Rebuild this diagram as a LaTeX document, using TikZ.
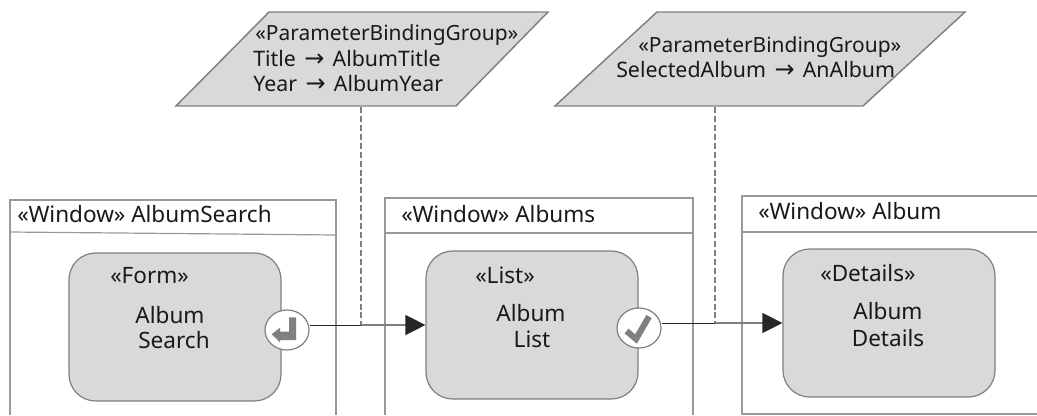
\documentclass[tikz,border=0pt]{standalone}
\usepackage{fontspec}
\setmainfont{Noto Sans}
\newfontfamily\arrowfont{DejaVu Sans}
\usetikzlibrary{arrows.meta,shapes.geometric}
\definecolor{framegray}{HTML}{999999}
\definecolor{edgegray}{HTML}{808080}
\definecolor{fillgray}{HTML}{D9D9D9}
\definecolor{inkdark}{HTML}{262626}
\newcommand{\toarrow}{\hspace{2.2pt}{\arrowfont\fontsize{18}{20}\selectfont →}\hspace{2pt}}
\tikzset{
  px/.style={x=0.75pt,y=-0.75pt},
  winline/.style={draw=framegray,line width=1.1pt},
  formbox/.style={draw=edgegray,fill=fillgray,line width=0.9pt,rounded corners=20pt,inner sep=0pt,minimum width=159pt,minimum height=111pt},
  parbox/.style={draw=edgegray,fill=fillgray,line width=1.1pt,line join=miter},
  port/.style={ellipse,draw=edgegray,fill=white,line width=0.9pt,inner sep=0pt,minimum width=33pt,minimum height=30pt},
  lbl/.style={inner sep=0pt,anchor=base west,text=black!90,font=\fontsize{16.9}{20}\selectfont},
  lblc/.style={lbl,anchor=base},
  hdr/.style={lbl,font=\fontsize{15.7}{19}\selectfont},
  bnd/.style={lbl,font=\fontsize{16}{19}\selectfont},
  darkline/.style={draw=inkdark,line width=0.65pt},
  arrowline/.style={draw=edgegray,line width=1pt,-{Triangle[length=15pt,width=15pt,color=inkdark]}},
  dashline/.style={draw=edgegray,line width=0.8pt,dash pattern=on 4.5pt off 2.2pt},
  glyph/.style={fill=edgegray,draw=none},
}
\begin{document}
\begin{tikzpicture}[px]
\useasboundingbox (0,0) rectangle (1037,415);
\fill[white] (0,0) rectangle (1037,415);
% windows
\draw[winline] (10,415) -- (10,200) -- (336,200) -- (336,415);
\draw[winline,line width=0.9pt] (10,232) -- (336,235);
\draw[winline] (385,415) -- (385,198) -- (693,198) -- (693,415);
\draw[winline] (384,233) -- (693,233);
\draw[winline] (1037,196) -- (742,196) -- (742,414) -- (1037,414);
\draw[winline] (742,232) -- (1037,232);
\node[lbl] (t1) at (17,222) {«Window» AlbumSearch};
\node[lbl] (t2) at (401,222) {«Window» Albums};
\node[lbl] (t3) at (758,219) {«Window» Album};
% parallelograms
\draw[parbox] (269,12) -- (548,12) -- (456,106) -- (176,106) -- cycle;
\draw[parbox] (657,12) -- (965,12) -- (863,106) -- (555,106) -- cycle;
\node[hdr] (p1a) at (255,40) {«ParameterBindingGroup»};
\node[bnd] (p1b) at (253,66) {Title \toarrow{} AlbumTitle};
\node[bnd] (p1c) at (253,91) {Year \toarrow{} AlbumYear};
\node[hdr] (p2a) at (638,52) {«ParameterBindingGroup»};
\node[bnd] (p2b) at (616,77) {SelectedAlbum \toarrow{} AnAlbum};
% forms
\node[formbox] (r1) at (175,327) {};
\node[formbox] (r2) at (532,325) {};
\node[formbox] (r3) at (889,323) {};
\node[lbl] (f1) at (110,283) {«Form»};
\node[lblc] (f1a) at (170,323) {Album};
\node[lblc] (f1b) at (174,348) {Search};
\node[lbl] (f2) at (475,283) {«List»};
\node[lblc] (f2a) at (531,321) {Album};
\node[lblc] (f2b) at (532,347) {List};
\node[lbl] (f3) at (820,281) {«Details»};
\node[lblc] (f3a) at (888,319) {Album};
\node[lblc] (f3b) at (888,346) {Details};
% connection points
\coordinate (j1) at (361,325);
\coordinate (j2) at (715,323);
\coordinate (b1) at (361,107);
\coordinate (b2) at (715,107);
% connectors
\draw[dashline] (b1) -- (j1);
\draw[dashline] (b2) -- (j2);
\node[port] (e1) at (287,330) {};
\node[port] (e2) at (639,328) {};
\draw[darkline] (e1.east |- j1) -- (j1);
\draw[darkline] (e2.east |- j2) -- (j2);
\draw[arrowline] (j1) -- (r2.west |- j1);
\draw[arrowline] (j2) -- (r3.west |- j2);
% glyphs
\fill[glyph] (289,317.3) -- (296,317.3) -- (296,340) -- (280,340) -- (280,342.3) -- (271.7,334.3) -- (280,327.7) -- (280,331.7) -- (289,331.7) -- cycle;
\draw[edgegray,line width=4.6pt,line join=miter] (626.5,331) -- (636,339) -- (649,316.5);
\end{tikzpicture}
\end{document}
